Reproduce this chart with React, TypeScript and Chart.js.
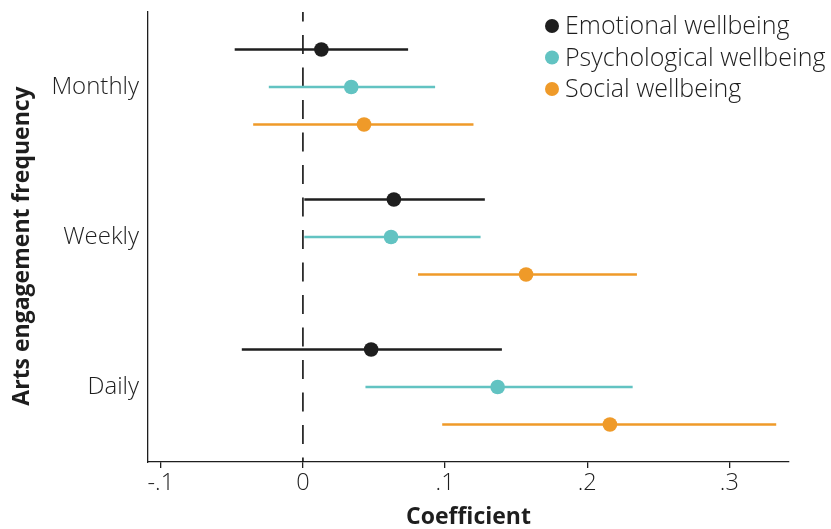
import React, { useEffect, useRef } from 'react';
import { Chart, registerables } from 'chart.js';

Chart.register(...registerables);

const CATEGORIES = ['Monthly', 'Weekly', 'Daily'];
const SERIES = ['Emotional wellbeing', 'Psychological wellbeing', 'Social wellbeing'];
const COLORS = ['#1e1e1e', '#62c3c2', '#ef9a29'];

// rows = series, columns = categories (Monthly, Weekly, Daily)
const ESTIMATES = [
  [0.013, 0.064, 0.048],
  [0.034, 0.062, 0.137],
  [0.043, 0.157, 0.216],
];
const LOWER = [
  [-0.048, 0.001, -0.043],
  [-0.024, 0.001, 0.044],
  [-0.035, 0.081, 0.098],
];
const UPPER = [
  [0.074, 0.128, 0.140],
  [0.093, 0.125, 0.232],
  [0.120, 0.235, 0.333],
];

const X_TICKS = [-0.1, 0, 0.1, 0.2, 0.3];
const X_TICK_LABELS = ['-.1', '0', '.1', '.2', '.3'];
const X_MIN = -0.109;
const X_MAX = 0.342;
const REF_LINE = 0;
const X_TITLE = 'Coefficient';
const Y_TITLE = 'Arts engagement frequency';

const FONT = '"Open Sans", sans-serif';
const TEXT = '#1e1e1e';

const rowY = (cat: number, ser: number) => cat * 4 + (ser - 1);

const annotationsPlugin = {
  id: 'extras',
  afterDraw(chart: any, _args: any, opts: any) {
    const ctx = chart.ctx;
    ctx.save();
    // legend in the top-right corner
    ctx.font = `${opts.legendWeight} ${opts.fontSize}px ${FONT}`;
    ctx.textBaseline = 'middle';
    ctx.textAlign = 'left';
    SERIES.forEach((name, i) => {
      const y = opts.top + i * opts.rowHeight;
      ctx.beginPath();
      ctx.arc(opts.x, y, opts.radius, 0, Math.PI * 2);
      ctx.fillStyle = COLORS[i];
      ctx.fill();
      ctx.fillStyle = TEXT;
      ctx.fillText(name, opts.x + opts.gap, y + 1);
    });
    // y-axis title
    ctx.translate(opts.yTitleX, opts.yTitleY);
    ctx.rotate(-Math.PI / 2);
    ctx.font = `bold ${opts.titleSize}px ${FONT}`;
    ctx.textAlign = 'center';
    ctx.fillText(Y_TITLE, 0, 0);
    ctx.restore();
  },
};

export default function App() {
  const ref = useRef<HTMLCanvasElement | null>(null);

  useEffect(() => {
    if (!ref.current) return;
    const datasets: any[] = [];

    // zero reference line
    datasets.push({
      type: 'line',
      data: [
        { x: REF_LINE, y: -2 },
        { x: REF_LINE, y: 10 },
      ],
      borderColor: '#111',
      borderWidth: 1.6,
      borderDash: [19, 13.5],
      borderDashOffset: 9.5,
      pointRadius: 0,
      showLine: true,
      order: 3,
    });

    // confidence intervals
    SERIES.forEach((_, s) => {
      CATEGORIES.forEach((_c, c) => {
        datasets.push({
          type: 'line',
          data: [
            { x: LOWER[s][c], y: rowY(c, s) },
            { x: UPPER[s][c], y: rowY(c, s) },
          ],
          borderColor: COLORS[s],
          borderWidth: 2.7,
          pointRadius: 0,
          showLine: true,
          order: 2,
        });
      });
    });

    // point estimates
    SERIES.forEach((name, s) => {
      datasets.push({
        type: 'scatter',
        label: name,
        data: CATEGORIES.map((_c, c) => ({ x: ESTIMATES[s][c], y: rowY(c, s) })),
        backgroundColor: COLORS[s],
        borderWidth: 0,
        pointRadius: 7.3,
        order: 1,
      });
    });

    const chart = new Chart(ref.current, {
      type: 'scatter',
      data: { datasets },
      plugins: [annotationsPlugin],
      options: {
        animation: false,
        responsive: false,
        layout: { autoPadding: false, padding: { top: 12, right: 42, left: 0, bottom: 0 } },
        plugins: {
          legend: { display: false },
          tooltip: { enabled: false },
          extras: {
            x: 552, top: 26, rowHeight: 31.5, radius: 7, gap: 13, fontSize: 25, legendWeight: 350,
            yTitleX: 22, yTitleY: 246, titleSize: 23,
          },
        } as any,
        scales: {
          x: {
            type: 'linear',
            min: X_MIN,
            max: X_MAX,
            afterBuildTicks: (scale: any) => {
              scale.ticks = X_TICKS.map((v) => ({ value: v }));
            },
            afterFit: (scale: any) => {
              scale.height = 67;
              scale.paddingLeft = 0;
              scale.paddingRight = 0;
            },
            ticks: {
              callback: (_v: any, i: number) => X_TICK_LABELS[i],
              color: TEXT,
              font: { family: FONT, size: 23.5, weight: 350 },
              padding: 1,
              maxRotation: 0,
            },
            grid: {
              display: true,
              drawOnChartArea: false,
              drawTicks: true,
              tickLength: 6,
              color: TEXT,
              lineWidth: 1.3,
            },
            border: { display: true, color: TEXT, width: 1.3 },
            title: {
              display: true,
              text: X_TITLE,
              color: TEXT,
              font: { family: FONT, size: 23, weight: 'bold', lineHeight: 1 },
              padding: 0,
            },
          },
          y: {
            type: 'linear',
            reverse: true,
            min: -2,
            max: 10,
            afterBuildTicks: (scale: any) => {
              scale.ticks = CATEGORIES.map((_c, c) => ({ value: c * 4 }));
            },
            afterFit: (scale: any) => {
              scale.width = 148;
              scale.paddingTop = 0;
              scale.paddingBottom = 0;
            },
            ticks: {
              callback: (_v: any, i: number) => CATEGORIES[i],
              color: TEXT,
              font: { family: FONT, size: 24, weight: 350 },
              padding: 9,
            },
            grid: { display: false, drawTicks: false },
            border: { display: true, color: TEXT, width: 1.3 },
            title: { display: false },
          },
        },
      },
    });
    return () => chart.destroy();
  }, []);

  return (
    <div style={{ position: 'fixed', left: 0, top: 0, width: 831, height: 529, background: '#fff' }}>
      <canvas ref={ref} width={831} height={529} style={{ display: 'block' }} />
    </div>
  );
}
